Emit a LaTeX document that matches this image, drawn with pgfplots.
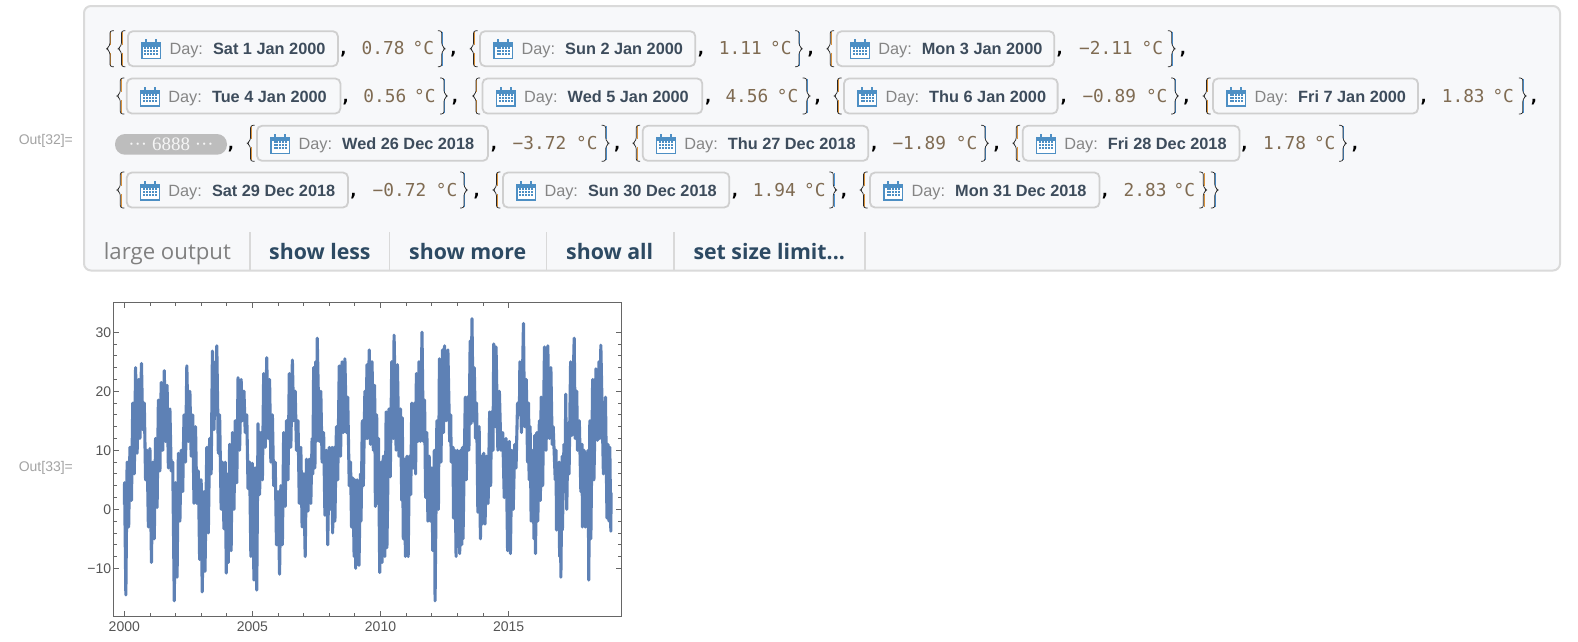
\documentclass[border=0pt]{standalone}
\usepackage{fontspec}
\usepackage{pgfplots}
\pgfplotsset{compat=1.18}
\setmainfont{Liberation Sans}
\newfontfamily\mono{DejaVu Sans Mono}
\newfontfamily\ui{Open Sans}
\newfontfamily\pillf{Liberation Serif}
\definecolor{panelfill}{HTML}{F7F8FA}
\definecolor{panelline}{HTML}{DADADA}
\definecolor{boxline}{HTML}{CFCFCF}
\definecolor{calblue}{HTML}{4D8FC4}
\definecolor{daygray}{HTML}{858585}
\definecolor{datec}{HTML}{3D4C5C}
\definecolor{valc}{HTML}{7F6B52}
\definecolor{bro}{HTML}{D9913A}
\definecolor{brb}{HTML}{4A94D8}
\definecolor{btn}{HTML}{2D4A63}
\definecolor{lineblue}{HTML}{5E81B5}
\definecolor{frame}{HTML}{666666}
\definecolor{ticktxt}{HTML}{555555}
\newcommand\lb[3]{%
  \draw[#3,line width=0.8pt] (#1+4.3,#2-17)--(#1+4.3,#2-4);
  \draw[#3,line width=0.8pt] (#1+4.3,#2+4)--(#1+4.3,#2+17);
  \draw[black!85,line width=0.7pt,rounded corners=2.5pt] (#1+7.5,#2-18)--(#1+3.5,#2-18)--(#1+3.5,#2-3)--(#1,#2)--(#1+3.5,#2+3)--(#1+3.5,#2+18)--(#1+7.5,#2+18);}
\newcommand\rb[3]{%
  \draw[#3,line width=0.8pt] (#1+0.8,#2-17)--(#1+0.8,#2-4);
  \draw[#3,line width=0.8pt] (#1+0.8,#2+4)--(#1+0.8,#2+17);
  \draw[black!85,line width=0.7pt,rounded corners=2.5pt] (#1-4,#2-18)--(#1,#2-18)--(#1,#2-3)--(#1+3.5,#2)--(#1,#2+3)--(#1,#2+18)--(#1-4,#2+18);}
\newcommand\calicon[2]{%
  \fill[calblue] (#1,#2-7) rectangle (#1+20,#2-2);
  \draw[calblue,line width=1.3pt,fill=white] (#1+0.7,#2-3) rectangle (#1+19.3,#2+9.5);
  \fill[calblue] (#1+4,#2-10) rectangle (#1+6,#2-5);
  \fill[calblue] (#1+14,#2-10) rectangle (#1+16,#2-5);
  \foreach \i in {0,...,4} \foreach \j in {0,1,2}
    \fill[calblue] (#1+3.2+\i*2.9,#2-0.5+\j*3) rectangle +(2,-2);}
\newcommand\ditem[4]{%
  \lb{#2-10}{#1}{bro}
  \draw[boxline,line width=1.8pt,fill=panelfill,rounded corners=5pt] (#2,#1-17.5) rectangle (#3,#1+17.5);
  \calicon{#2+13.3}{#1+0.5}
  \node[anchor=base west,inner sep=0pt,text=daygray] at (#2+41.4,#1+6) {\fontsize{16.3}{18}\selectfont Day:};
  \node[anchor=base west,inner sep=0pt,text=datec] at (#2+85,#1+6) {\fontsize{16.3}{18}\selectfont\bfseries #4};}
\newcommand\dval[7]{%
  \node[anchor=base,inner sep=0pt] at (#2,#1+6) {\fontsize{17.8}{18}\selectfont\mono\bfseries ,};
  \node[anchor=base west,inner sep=0pt,text=valc] at (#3,#1+6) {\fontsize{17.8}{18}\selectfont\mono #4};
  \node[anchor=base west,inner sep=0pt,text=valc] at (#5,#1+6) {\fontsize{17.8}{18}\selectfont\mono °C};
  \rb{#6}{#1}{brb}
  \node[anchor=base,inner sep=0pt] at (#7,#1+6) {\fontsize{17.8}{18}\selectfont\mono\bfseries ,};}
\newcommand\uibtn[2]{\node[anchor=base west,inner sep=0pt,text=btn] at (#1,259) {\fontsize{21.3}{22}\selectfont\ui\bfseries #2};}
\begin{document}
\begin{tikzpicture}
\fill[white] (0pt,0pt) rectangle (1578pt,-641pt);
\begin{scope}[x=1pt,y=-1pt]
\draw[panelline,line width=2pt,fill=panelfill,rounded corners=7pt] (84,6) rectangle (1560,270.5);
\node[anchor=west,inner sep=0pt,text=daygray!75] at (18.6,141) {\fontsize{14}{15}\selectfont Out[32]=};
\node[anchor=west,inner sep=0pt,text=daygray!75] at (18.6,468) {\fontsize{14}{15}\selectfont Out[33]=};
% row 1
\lb{106.4}{48.7}{bro}
\ditem{48.7}{127.9}{337.9}{Sat 1 Jan 2000}
\dval{48.7}{343.6}{361.4}{0.78}{412.5}{441.8}{453.6}
\ditem{48.7}{480}{695.3}{Sun 2 Jan 2000}
\dval{48.7}{701}{718.7}{1.11}{770}{799}{810.7}
\ditem{48.7}{836.7}{1054.3}{Mon 3 Jan 2000}
\dval{48.7}{1059.6}{1078.9}{−2.11}{1141.4}{1171.8}{1183}
% row 2
\ditem{96}{126.8}{340.4}{Tue 4 Jan 2000}
\dval{96}{345.7}{363.2}{0.56}{414}{444}{455}
\ditem{96}{482.5}{702.3}{Wed 5 Jan 2000}
\dval{96}{708.3}{725.3}{4.56}{776.7}{806.7}{817.7}
\ditem{96}{844}{1057.6}{Thu 6 Jan 2000}
\dval{96}{1063.7}{1082.3}{−0.89}{1145.8}{1175}{1186.4}
\ditem{96}{1213}{1418}{Fri 7 Jan 2000}
\dval{96}{1423.7}{1441.6}{1.83}{1492.3}{1522.8}{1534}
% row 3
\fill[black!26,rounded corners=10pt] (115,134) rectangle (227,154.7);
\node[anchor=base,inner sep=0pt,text=white!96!black] at (171,150.5) {\fontsize{19}{20}\selectfont\pillf ··· 6888 ···};
\node[anchor=base,inner sep=0pt] at (231,149.3) {\fontsize{17.8}{18}\selectfont\mono\bfseries ,};
\ditem{143.3}{257}{488}{Wed 26 Dec 2018}
\dval{143.3}{494}{512.5}{−3.72}{576}{605.7}{617.3}
\ditem{143.3}{642.7}{868.3}{Thu 27 Dec 2018}
\dval{143.3}{874.3}{892.3}{−1.89}{955.7}{985}{996.7}
\ditem{143.3}{1022.7}{1239.5}{Fri 28 Dec 2018}
\dval{143.3}{1244.5}{1263}{1.78}{1313.8}{1343}{1355}
% row 4
\ditem{190}{126.8}{348}{Sat 29 Dec 2018}
\dval{190}{353.6}{372.5}{−0.72}{435.7}{464}{476.8}
\ditem{190}{502.9}{729.3}{Sun 30 Dec 2018}
\dval{190}{735}{752.7}{1.94}{804}{833.3}{844}
\ditem{190}{870}{1099.5}{Mon 31 Dec 2018}
\node[anchor=base,inner sep=0pt] at (1105,196) {\fontsize{17.8}{18}\selectfont\mono\bfseries ,};
\node[anchor=base west,inner sep=0pt,text=valc] at (1123.5,196) {\fontsize{17.8}{18}\selectfont\mono 2.83};
\node[anchor=base west,inner sep=0pt,text=valc] at (1173.5,196) {\fontsize{17.8}{18}\selectfont\mono °C};
\rb{1203.3}{190}{bro}
\rb{1214.8}{190}{brb}
% buttons
\foreach \x in {250,389.3,546.4,674,865} \draw[black!15,line width=1.5pt] (\x,232) -- (\x,269.5);
\node[anchor=base west,inner sep=0pt,text=black!50] at (103.6,259) {\fontsize{22.2}{24}\selectfont\ui large output};
\uibtn{269}{show less}
\uibtn{409}{show more}
\uibtn{566}{show all}
\uibtn{693.3}{set size limit...}
\end{scope}
\begin{axis}[
  at={(113.7pt,-616pt)}, anchor=south west,
  scale only axis, width=507.3pt, height=313.3pt,
  xmin=1999.586, xmax=2019.387, ymin=-18.08, ymax=35,
  axis line style={frame,line width=1pt},
  tick style={frame,line width=0.8pt},
  tick align=inside,
  major tick length=5pt, minor tick length=3pt,
  xtick={2000,2005,2010,2015}, xticklabels={2000,2005,2010,2015},
  ytick={-10,0,10,20,30}, yticklabels={−10,0,10,20,30},
  minor x tick num=4, minor y tick num=4,
  ticklabel style={text=ticktxt,font=\fontsize{14}{16}\selectfont},
  xticklabel style={yshift=-2.5pt},
  yticklabel style={xshift=1pt},
]
\addplot[lineblue,line width=3.1pt,line join=round] coordinates {
(2000.00,0.78)(2000.01,4.5)(2000.06,-14.5)(2000.11,8)(2000.17,-3)(2000.22,10.5)(2000.28,1.5)(2000.33,18)(2000.39,6)(2000.44,24)(2000.50,9.5)(2000.56,22)(2000.61,12)(2000.67,24.7)(2000.72,13.5)(2000.78,18)(2000.83,5)(2000.89,10)(2000.94,-3)
(2001.00,10.3)(2001.06,-9)(2001.11,8)(2001.17,-5)(2001.22,12)(2001.28,0.3)(2001.33,18.5)(2001.39,6.5)(2001.44,21.5)(2001.50,10)(2001.56,23.5)(2001.61,11.5)(2001.67,21)(2001.72,7)(2001.78,17)(2001.83,6.5)(2001.89,8)(2001.95,-15.5)
(2002.00,4.5)(2002.06,-11.5)(2002.11,9.5)(2002.17,-2)(2002.22,10)(2002.28,3)(2002.33,16)(2002.39,8)(2002.44,24.3)(2002.50,11.5)(2002.56,20)(2002.61,9)(2002.67,16)(2002.72,1)(2002.78,14)(2002.83,1)(2002.89,6.5)(2002.94,-8.5)
(2003.00,5)(2003.04,-14)(2003.11,3)(2003.15,-10.5)(2003.22,10.5)(2003.28,-4)(2003.33,12)(2003.39,6)(2003.44,26.8)(2003.50,13.5)(2003.56,25)(2003.58,16)(2003.61,27.7)(2003.67,9.5)(2003.72,16)(2003.78,0)(2003.83,8)(2003.89,-3.3)(2003.94,8)(2003.98,-10.8)
(2004.00,6)(2004.06,-9)(2004.11,11)(2004.17,-7)(2004.22,13)(2004.28,0)(2004.33,15)(2004.39,4.5)(2004.44,22.3)(2004.50,10)(2004.56,22)(2004.61,15)(2004.67,20)(2004.72,13)(2004.78,16)(2004.83,3.5)(2004.89,8)(2004.94,-8)
(2005.00,7.8)(2005.06,-12)(2005.11,7)(2005.17,-13.7)(2005.22,14.5)(2005.28,2.5)(2005.33,13)(2005.39,5)(2005.44,23)(2005.50,10.5)(2005.56,25.7)(2005.61,12)(2005.67,22)(2005.72,8)(2005.78,16)(2005.83,4)(2005.89,8)(2005.94,-6)
(2006.00,3)(2006.06,-11)(2006.11,4)(2006.17,-6)(2006.22,13)(2006.28,0.5)(2006.33,15)(2006.39,5)(2006.44,23)(2006.50,10.5)(2006.56,25.3)(2006.61,15)(2006.67,20)(2006.72,10)(2006.78,15)(2006.83,1)(2006.89,10.5)(2006.94,-3)
(2007.00,6)(2007.06,-8)(2007.11,8.5)(2007.17,-0.3)(2007.22,8.5)(2007.28,1)(2007.33,12)(2007.36,6)(2007.39,24)(2007.44,7)(2007.47,25)(2007.50,11.5)(2007.53,29)(2007.61,11.5)(2007.67,20)(2007.72,8)(2007.78,13)(2007.83,-1)(2007.89,10)(2007.94,-6)
(2008.00,10.5)(2008.06,0)(2008.11,10.5)(2008.13,-4)(2008.20,10.5)(2008.22,-2)(2008.28,14)(2008.33,5)(2008.39,24.3)(2008.44,9)(2008.50,25)(2008.55,13)(2008.61,25.5)(2008.67,13)(2008.72,19)(2008.78,4)(2008.83,8)(2008.87,-3)(2008.92,5.3)(2008.97,-8)
(2009.00,5)(2009.03,-10)(2009.09,5)(2009.16,-9.5)(2009.22,6)(2009.24,-2)(2009.29,15)(2009.33,4)(2009.39,20)(2009.44,12)(2009.47,24.5)(2009.50,12)(2009.56,27)(2009.61,11)(2009.67,25)(2009.72,10)(2009.77,21)(2009.80,0.5)(2009.85,16)(2009.89,1)(2009.92,12)(2009.97,-10.7)
(2010.03,8)(2010.06,-9)(2010.11,9)(2010.17,-8)(2010.22,16.5)(2010.25,-6.5)(2010.33,17)(2010.38,5.5)(2010.44,25)(2010.50,12)(2010.53,29.5)(2010.61,10)(2010.66,24.5)(2010.72,9)(2010.78,17)(2010.83,1.5)(2010.85,15.5)(2010.89,-5)(2010.95,8.5)(2010.97,-8)
(2011.03,9)(2011.08,-8)(2011.13,9)(2011.18,2.5)(2011.22,18)(2011.27,7)(2011.33,18)(2011.37,6)(2011.40,23)(2011.46,11.5)(2011.50,25)(2011.56,11.5)(2011.62,30)(2011.67,11.5)(2011.72,18.5)(2011.76,2)(2011.81,13)(2011.85,-2)(2011.90,9)(2011.94,-2)
(2012.00,7)(2012.04,-7)(2012.10,10)(2012.13,-15.5)(2012.20,15)(2012.26,0)(2012.30,25.5)(2012.36,8)(2012.42,27)(2012.46,13)(2012.50,27.7)(2012.56,15)(2012.63,27)(2012.70,11.5)(2012.74,16)(2012.76,8)(2012.83,10.5)(2012.85,-1.5)(2012.90,10)(2012.95,-8)
(2013.00,10)(2013.09,-7.5)(2013.13,10)(2013.17,-6)(2013.20,10.5)(2013.22,-5)(2013.31,19)(2013.35,5)(2013.39,19)(2013.45,10)(2013.50,28.5)(2013.53,14.5)(2013.57,32.3)(2013.62,15)(2013.66,24)(2013.71,12)(2013.75,18)(2013.80,-0.5)(2013.85,14)(2013.90,-5)(2013.94,9)(2013.97,-2.5)
(2014.03,9.5)(2014.08,-2.5)(2014.14,9)(2014.20,1)(2014.26,16.5)(2014.30,4)(2014.33,16.5)(2014.39,10)(2014.42,28)(2014.48,14)(2014.51,27.5)(2014.58,10)(2014.64,20)(2014.70,10)(2014.77,13)(2014.83,2)(2014.90,12)(2014.96,-7)
(2015.03,11.5)(2015.07,-7.5)(2015.13,10)(2015.18,0)(2015.24,11)(2015.29,7)(2015.35,18)(2015.42,16)(2015.44,25)(2015.50,13)(2015.58,31.5)(2015.62,14)(2015.69,22)(2015.74,8)(2015.78,18)(2015.80,5)(2015.84,14)(2015.88,-2)(2015.95,10)(2015.99,-5)
(2016.02,12.5)(2016.05,-7.5)(2016.10,13)(2016.14,-2)(2016.20,15)(2016.24,1.5)(2016.27,19)(2016.33,4)(2016.40,27.5)(2016.46,10)(2016.53,27.7)(2016.59,12)(2016.65,24)(2016.70,11)(2016.74,14)(2016.82,5)(2016.85,10)(2016.87,-3.5)(2016.97,8)(2016.99,-8)
(2017.02,5)(2017.04,-11.5)(2017.09,9)(2017.10,-3.5)(2017.16,11)(2017.20,3)(2017.23,19.5)(2017.27,0)(2017.32,14.5)(2017.36,6)(2017.42,25)(2017.47,12.5)(2017.56,29)(2017.60,12)(2017.66,20)(2017.69,10)(2017.76,15)(2017.82,3)(2017.87,11)(2017.88,-3)(2017.95,10)(2017.99,-3)
(2018.03,9.5)(2018.08,-3)(2018.10,10)(2018.13,-12)(2018.17,15)(2018.21,-5)(2018.28,22)(2018.33,5)(2018.41,23.8)(2018.47,11.7)(2018.53,25)(2018.56,12)(2018.60,27.8)(2018.70,6)(2018.78,19)(2018.84,-1.5)(2018.88,11)(2018.92,-2)(2018.95,10.5)(2018.99,-3.7)(2019.00,2.83)
};
\end{axis}
\end{tikzpicture}
\end{document}
